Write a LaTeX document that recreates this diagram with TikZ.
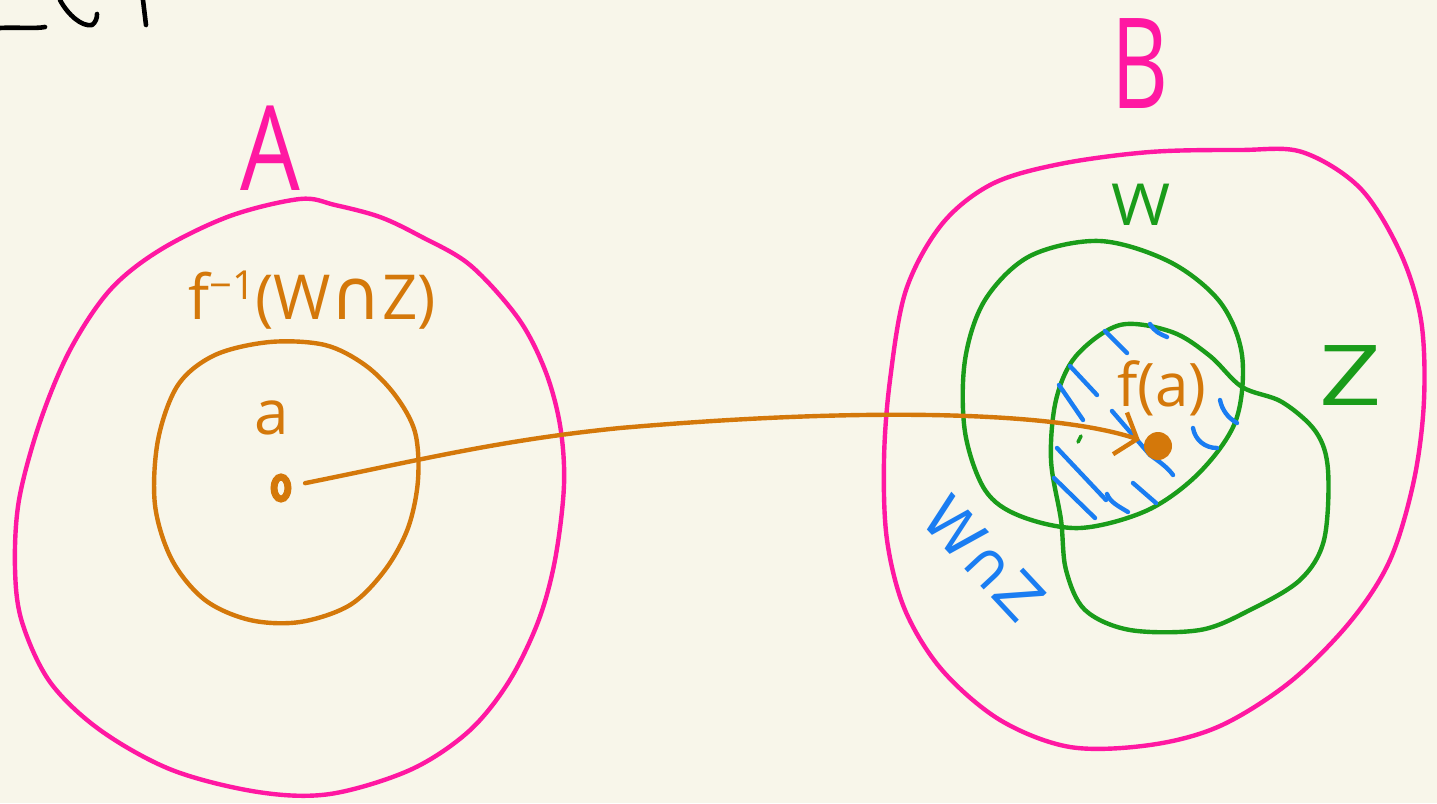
\documentclass[tikz,border=0pt]{standalone}
\usepackage{fontspec}
\setmainfont{Open Sans}
\newfontfamily\dvs{DejaVu Sans}
\usetikzlibrary{arrows.meta,shapes.geometric}
\definecolor{bg}{HTML}{F8F6EA}
\definecolor{pinkc}{HTML}{FF18A2}
\definecolor{orangec}{HTML}{D4780A}
\definecolor{greenc}{HTML}{1A9C1A}
\definecolor{bluec}{HTML}{1A7DF2}
\begin{document}
\begin{tikzpicture}[x=1pt,y=-1pt,
  stroke/.style={line width=4.4pt,line cap=round,line join=round},
  pinkline/.style={stroke,draw=pinkc},
  orangeline/.style={stroke,draw=orangec},
  greenline/.style={stroke,draw=greenc},
  hatch/.style={stroke,draw=bluec},
  inkline/.style={stroke,draw=black,line width=4.6pt},
  lab/.style={inner sep=0pt}]
\fill[bg] (0,0) rectangle (1437,803);
\useasboundingbox (0,0) rectangle (1437,803);

% cut-off handwriting at top-left
\draw[inkline] (0,28) .. controls (15,27) and (35,29) .. (45,27);
\draw[inkline] (60,0) .. controls (68,15) and (82,27) .. (92,25) .. controls (96,22) and (97,18) .. (97,14);
\draw[inkline] (143,0) -- (146,25);

% set A
\draw[pinkline] plot[smooth cycle,tension=0.55] coordinates {
 (300,199) (335,205) (380,217) (420,236) (470,265) (518,318) (545,370) (560,425)
 (564,485) (555,560) (538,622) (508,683) (468,732) (410,770) (330,794) (258,792)
 (172,770) (100,730) (50,682) (22,622) (15,568) (19,500) (40,422) (70,350)
 (110,290) (160,250) (230,216)};
\node[lab,text=pinkc,font=\fontsize{118}{118}\selectfont,xscale=0.8] (labA) at (270,148) {A};

% preimage
\draw[orangeline] plot[smooth cycle,tension=0.55] coordinates {
 (325,345) (365,365) (395,395) (415,432) (418,480) (408,528) (385,570) (350,605)
 (300,622) (250,620) (205,600) (172,560) (155,505) (158,440) (178,385) (215,355) (270,342)};
\node[lab,text=orangec,font=\fontsize{62}{62}\selectfont] (labpre) at (312,300)
  {f\raisebox{0.32em}{\fontsize{40}{40}\selectfont −1}({W}{\dvs\fontsize{70}{70}\selectfont ∩}Z)};
\node[lab,text=orangec,font=\fontsize{62}{62}\selectfont] (laba) at (272,418) {a};
\node[ellipse,draw=orangec,line width=7pt,minimum width=14pt,minimum height=22pt,inner sep=0pt] (pa) at (281,488) {};

% set B
\draw[pinkline] plot[smooth cycle,tension=0.55] coordinates {
 (1240,150) (1302,152) (1360,188) (1400,252) (1421,320) (1424,400) (1414,480)
 (1390,560) (1350,622) (1290,682) (1220,726) (1150,745) (1070,747) (1000,720)
 (942,670) (905,610) (887,540) (884,460) (890,380) (906,290) (942,224) (992,184)
 (1060,164) (1150,152)};
\node[lab,text=pinkc,font=\fontsize{126}{126}\selectfont,xscale=0.7] (labB) at (1140,64) {B};

% W
\draw[greenline] plot[smooth cycle,tension=0.55] coordinates {
 (1100,241) (1170,262) (1220,302) (1242,355) (1236,420) (1200,472) (1148,510)
 (1080,528) (1020,516) (985,490) (965,432) (965,360) (985,300) (1030,256)};
\node[lab,text=greenc,font=\fontsize{58}{58}\selectfont,xscale=1.1] (labW) at (1141,205) {W};

% Z
\draw[greenline] plot[smooth cycle,tension=0.55] coordinates {
 (1120,325) (1172,332) (1210,356) (1242,387) (1282,402) (1316,432) (1328,470)
 (1324,540) (1300,580) (1250,610) (1200,630) (1130,630) (1085,610) (1066,570)
 (1061,520) (1051,460) (1056,400) (1076,356)};
\node[lab,text=greenc,font=\fontsize{84}{84}\selectfont,xscale=1.3] (labZ) at (1351,376) {Z};

% hatching of W cap Z
\draw[hatch] (1105,331) -- (1127,353);
\draw[hatch] (1150,324) .. controls (1155,332) and (1160,334) .. (1167,337);
\draw[hatch] (1070,366) -- (1097,395);
\draw[hatch] (1059,385) -- (1083,420);
\draw[hatch] (1112,411) -- (1150,455) .. controls (1160,462) and (1168,468) .. (1173,475);
\draw[hatch] (1057,448) -- (1106,500);
\draw[hatch] (1054,478) -- (1095,518);
\draw[hatch] (1107,494) .. controls (1110,502) and (1118,506) .. (1128,512);
\draw[hatch] (1133,483) -- (1156,503);
\draw[hatch] (1220,400) .. controls (1222,410) and (1228,418) .. (1237,423);
\draw[hatch] (1193,428) .. controls (1195,440) and (1205,448) .. (1217,448);
\draw[greenline,line width=3.6pt] (1078,442) -- (1081,436);
\node[lab,text=bluec,font=\dvs\fontsize{60}{60}\selectfont,rotate=-47] (labWZ) at (984,558) {W∩Z};

% f(a)
\node[lab,text=orangec,font=\fontsize{60}{60}\selectfont] (labfa) at (1162,388) {f(a)};
\node[circle,fill=orangec,minimum size=28pt,inner sep=0pt] (fa) at (1158,446) {};

% the map
\draw[orangeline,shorten <=14pt,shorten >=5pt,-{Straight Barb[length=18pt,width=44pt]}]
  (pa) .. controls (420,460) and (500,440) .. (620,428)
  .. controls (850,408) and (1050,410) .. (fa);
\end{tikzpicture}
\end{document}
